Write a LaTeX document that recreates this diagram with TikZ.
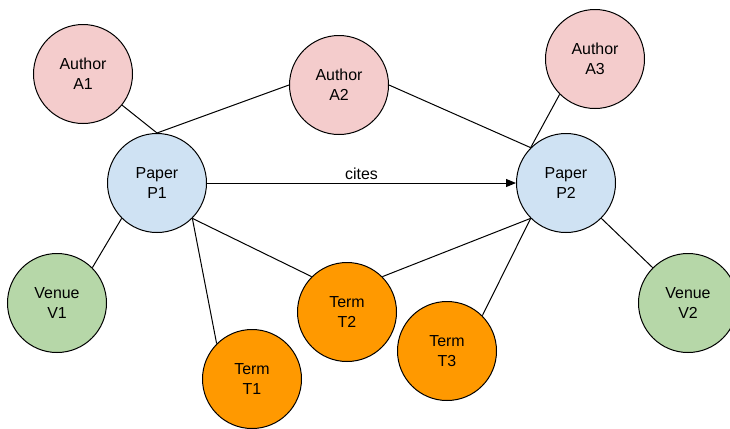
\documentclass[tikz,border=0pt]{standalone}
\usepackage{fontspec}
\setmainfont{Liberation Sans}
\usepackage{xcolor}
\usetikzlibrary{arrows.meta}

\definecolor{authorfill}{HTML}{F4CCCC}
\definecolor{paperfill}{HTML}{CFE2F3}
\definecolor{venuefill}{HTML}{B6D7A8}
\definecolor{termfill}{HTML}{FF9900}

\begin{document}
\begin{tikzpicture}[
  x=1bp,y=-1bp,
  entity/.style={circle,draw,line width=1bp,minimum size=99bp,inner sep=0pt,align=center,font=\fontsize{16}{20}\selectfont},
  author/.style={entity,fill=authorfill},
  paper/.style={entity,fill=paperfill},
  venue/.style={entity,fill=venuefill},
  term/.style={entity,fill=termfill},
  link/.style={line width=1bp},
  arr/.style={-{Triangle[length=10bp,width=8bp]},line width=1bp}
]
\useasboundingbox (0,0) rectangle (730,428);

\node[author] (A1) at (83,74) {Author\\A1};
\node[author] (A2) at (339,85) {Author\\A2};
\node[author] (A3) at (595,59) {Author\\A3};

\node[paper] (P1) at (157,183) {Paper\\P1};
\node[paper] (P2) at (566,183) {Paper\\P2};

\node[venue] (V1) at (57,303) {Venue\\V1};
\node[venue] (V2) at (688,303) {Venue\\V2};

\node[term] (T1) at (252,379) {Term\\T1};
\node[term] (T2) at (347,312) {Term\\T2};
\node[term] (T3) at (447,351) {Term\\T3};

% authorship
\draw[link] (A1) -- (P1.north);
\draw[link] (A2.west) -- (P1.north);
\draw[link] (A2.east) -- (P2.north west);
\draw[link] (A3.south west) -- (P2.north west);

% citation
\draw[arr] (P1.east) -- node[above,font=\fontsize{16}{20}\selectfont]{cites} (P2.west);

% venues and terms
\draw[link] (V1.north east) -- (P1.south west);
\draw[link] (P1.south east) -- (T1.north west);
\draw[link] (P1.south east) -- (T2.north west);
\draw[link] (P2.south west) -- (T2.north east);
\draw[link] (P2.south west) -- (T3.north east);
\draw[link] (P2.south east) -- (V2.north west);
\end{tikzpicture}
\end{document}
